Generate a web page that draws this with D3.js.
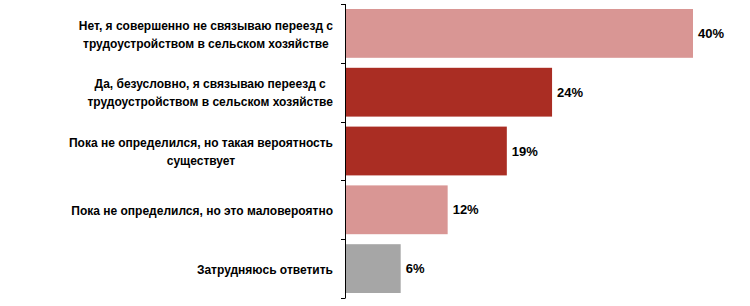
<!DOCTYPE html>
<html><head><meta charset="utf-8">
<script src="https://cdn.jsdelivr.net/npm/d3@7"></script>
<style>body{margin:0;background:#fff}</style>
</head><body>
<svg id="c" width="750" height="306"></svg>
<script>
const categories = [
  ["Нет, я совершенно не связываю переезд с", "трудоустройством в сельском хозяйстве"],
  ["Да, безусловно, я связываю переезд с", "трудоустройством в сельском хозяйстве"],
  ["Пока не определился, но такая вероятность", "существует"],
  ["Пока не определился, но это маловероятно"],
  ["Затрудняюсь ответить"]
];
const values = [40, 23.8, 18.6, 11.8, 6.4];
const valueLabels = ["40%", "24%", "19%", "12%", "6%"];
const colors = ["#D99694", "#AA2D23", "#AA2D23", "#D99694", "#A6A6A6"];

const svg = d3.select("#c");
const x0 = 345;
const x = d3.scaleLinear().domain([0, 40]).range([x0, 693]);
const y = d3.scaleBand().domain(d3.range(values.length)).range([4, 298]).paddingInner(0.17).paddingOuter(0.085);

const font = "'Liberation Sans Narrow','Liberation Sans',Arial,sans-serif";

svg.selectAll("rect.bar").data(values).join("rect")
  .attr("class", "bar")
  .attr("x", x0 + 1)
  .attr("y", (d, i) => y(i))
  .attr("width", d => x(d) - x0 - 1)
  .attr("height", y.bandwidth())
  .attr("fill", (d, i) => colors[i]);

// axis
const axisScale = d3.scaleBand().domain(d3.range(values.length)).range([4, 298]);
const axis = svg.append("g");
axis.append("line").attr("x1", x0 + 0.5).attr("x2", x0 + 0.5).attr("y1", 4).attr("y2", 298).attr("stroke", "#000").attr("stroke-width", 1);
const tickPos = d3.range(values.length + 1).map(i => i < values.length ? axisScale(i) : 298);
axis.selectAll("line.t").data(tickPos).join("line").attr("class", "t")
  .attr("x1", x0 - 4).attr("x2", x0 + 0.5)
  .attr("y1", d => Math.round(d) + 0.5).attr("y2", d => Math.round(d) + 0.5)
  .attr("stroke", "#000");

// value labels
svg.selectAll("text.v").data(values).join("text").attr("class", "v")
  .attr("x", d => x(d) + 5)
  .attr("y", (d, i) => y(i) + y.bandwidth() / 2)
  .attr("dy", "0.35em")
  .attr("font-family", font).attr("font-weight", "bold").attr("font-size", 13)
  .attr("fill", "#000")
  .text((d, i) => valueLabels[i]);

// category labels
const rightEdge = 333;
const lineH = 18;
categories.forEach((lines, i) => {
  const g = svg.append("g");
  const cy = y(i) + y.bandwidth() / 2 + 1;
  const texts = lines.map((l, j) => g.append("text")
    .attr("y", cy + (j - (lines.length - 1) / 2) * lineH)
    .attr("dy", "0.35em")
    .attr("text-anchor", "middle")
    .attr("font-family", font).attr("font-weight", "bold").attr("font-size", 12)
    .attr("fill", "#000").text(l));
  const maxW = d3.max(texts, t => t.node().getComputedTextLength());
  texts.forEach(t => t.attr("x", rightEdge - maxW / 2));
});
</script>
</body></html>
